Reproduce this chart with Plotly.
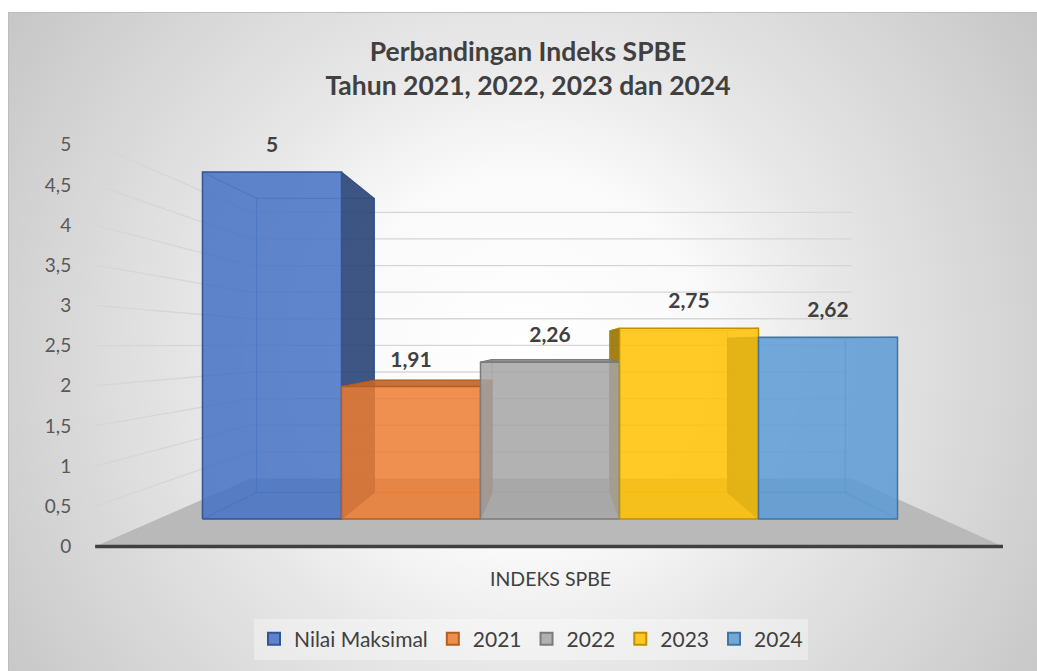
import base64
import plotly.graph_objects as go

# ---------------- data ----------------
SERIES = ["Nilai Maksimal", "2021", "2022", "2023", "2024"]
VALUES = [5, 1.91, 2.26, 2.75, 2.62]
COLORS = ["#4472C4", "#ED7D31", "#A5A5A5", "#FFC000", "#5B9BD5"]
Y_TICKS = [0, 0.5, 1, 1.5, 2, 2.5, 3, 3.5, 4, 4.5, 5]
Y_TICK_TEXT = ["0", "0,5", "1", "1,5", "2", "2,5", "3", "3,5", "4", "4,5", "5"]
CATEGORY = "INDEKS SPBE"
TITLE_LINES = ["Perbandingan Indeks SPBE", "Tahun 2021, 2022, 2023 dan 2024"]

# ---------------- 3D projection geometry (screen pixels) ----------------
W, H = 1037, 671
OFF = 0                    # body margin removed by post_script: figure origin = screen origin
VX, VY = 556, 345          # vanishing point
BASE_Y = 519               # bar front plane: y of value 0
PX_PER_UNIT = 69.4         # bar front plane: pixels per unit
F_FLOOR_FRONT = 1.158
F_BAR_FRONT = 1.0
F_BAR_BACK = 0.847
F_WALL = 0.767
X_LEFT, X_RIGHT = 158, 942
GAP_RATIO = 0.32
OPACITY = 0.85
FONT = "Lato"
TXT = "#404040"


def proj(X, v, f):
    return VX + (X - VX) * f, VY + (BASE_Y - PX_PER_UNIT * v - VY) * f


def col(hexc, a=1.0, k=1.0):
    r, g, b = (int(hexc[i:i + 2], 16) for i in (1, 3, 5))
    return f"rgba({int(r * k)},{int(g * k)},{int(b * k)},{a})"


def poly(pts):
    xs = [p[0] for p in pts] + [pts[0][0]]
    ys = [p[1] for p in pts] + [pts[0][1]]
    return xs, ys


fig = go.Figure()

# floor
fx, fy = poly([proj(X_LEFT, 0, F_FLOOR_FRONT), proj(X_RIGHT, 0, F_FLOOR_FRONT),
               proj(X_RIGHT, 0, F_WALL), proj(X_LEFT, 0, F_WALL)])
fig.add_trace(go.Scatter(x=fx, y=fy, fill="toself", fillcolor="#b9b9b9", mode="lines",
                         line=dict(width=0, color="#b9b9b9"), showlegend=False, hoverinfo="skip"))

# gridlines on side wall and back wall
gx, gy = [], []
for v in Y_TICKS:
    if v == 0:
        continue
    a = proj(X_LEFT, v, F_FLOOR_FRONT)
    b = proj(X_LEFT, v, F_WALL)
    c = proj(X_RIGHT, v, F_WALL)
    gx += [a[0], b[0], c[0], None]
    gy += [a[1], b[1], c[1], None]
fig.add_trace(go.Scatter(x=gx, y=gy, mode="lines", line=dict(color="#d6d6d6", width=1.3),
                         showlegend=False, hoverinfo="skip"))

# axis line (floor front edge)
a0 = proj(X_LEFT, 0, F_FLOOR_FRONT)
a1 = proj(X_RIGHT, 0, F_FLOOR_FRONT)
fig.add_trace(go.Scatter(x=[a0[0], a1[0]], y=[a0[1], a1[1]], mode="lines",
                         line=dict(color="#404040", width=3.5), showlegend=False, hoverinfo="skip"))

n = len(VALUES)
bar_w = (X_RIGHT - X_LEFT) / (n + 2 * GAP_RATIO)
bars = []
for i, (v, c) in enumerate(zip(VALUES, COLORS)):
    xl = X_LEFT + GAP_RATIO * bar_w + i * bar_w
    xr = xl + bar_w
    bars.append((xl, xr, v, c))

# back edges (seen through translucent faces)
for xl, xr, v, c in bars:
    ex, ey = [], []
    back = [proj(xl, 0, F_BAR_BACK), proj(xr, 0, F_BAR_BACK), proj(xr, v, F_BAR_BACK), proj(xl, v, F_BAR_BACK)]
    bx, by = poly(back)
    ex += bx + [None]
    ey += by + [None]
    for X, val in [(xl, 0), (xr, 0), (xr, v), (xl, v)]:
        p, q = proj(X, val, F_BAR_FRONT), proj(X, val, F_BAR_BACK)
        ex += [p[0], q[0], None]
        ey += [p[1], q[1], None]
    fig.add_trace(go.Scatter(x=ex, y=ey, mode="lines", line=dict(color=col(c, 0.55, 0.85), width=1.2),
                             showlegend=False, hoverinfo="skip"))

# side faces
for xl, xr, v, c in bars:
    for X, vis in [(xl, xl > VX), (xr, xr < VX)]:
        if not vis:
            continue
        sx, sy = poly([proj(X, 0, F_BAR_FRONT), proj(X, 0, F_BAR_BACK),
                       proj(X, v, F_BAR_BACK), proj(X, v, F_BAR_FRONT)])
        fig.add_trace(go.Scatter(x=sx, y=sy, fill="toself", fillcolor=col(c, 0.9, 0.6), mode="lines",
                                 line=dict(color=col(c, 1, 0.7), width=1), showlegend=False, hoverinfo="skip"))

# top faces (visible when below the horizon)
for xl, xr, v, c in bars:
    if proj(xl, v, F_BAR_FRONT)[1] <= VY:
        continue
    tx, ty = poly([proj(xl, v, F_BAR_FRONT), proj(xr, v, F_BAR_FRONT),
                   proj(xr, v, F_BAR_BACK), proj(xl, v, F_BAR_BACK)])
    fig.add_trace(go.Scatter(x=tx, y=ty, fill="toself", fillcolor=col(c, 0.92, 0.82), mode="lines",
                             line=dict(color=col(c, 1, 0.75), width=1), showlegend=False, hoverinfo="skip"))

# front faces
for (xl, xr, v, c), name in zip(bars, SERIES):
    qx, qy = poly([proj(xl, 0, F_BAR_FRONT), proj(xr, 0, F_BAR_FRONT),
                   proj(xr, v, F_BAR_FRONT), proj(xl, v, F_BAR_FRONT)])
    fig.add_trace(go.Scatter(x=qx, y=qy, fill="toself", fillcolor=col(c, OPACITY), mode="lines",
                             line=dict(color=col(c, 1, 0.75), width=1.5), name=name,
                             legendgroup=name, showlegend=False, hoverinfo="skip"))

# data labels
lx = [proj((xl + xr) / 2, v, F_BAR_FRONT)[0] for xl, xr, v, c in bars]
ly = [proj((xl + xr) / 2, v, F_BAR_FRONT)[1] - 25 for xl, xr, v, c in bars]
lt = [f"{v:g}".replace(".", ",") for v in VALUES]
fig.add_trace(go.Scatter(x=lx, y=ly, mode="text", text=lt, textposition="middle center",
                         textfont=dict(family=FONT, size=21, color=TXT, weight="bold"),
                         showlegend=False, hoverinfo="skip"))

# legend entries
for name, c in zip(SERIES, COLORS):
    fig.add_trace(go.Scatter(x=[None], y=[None], mode="markers", name=name, legendgroup=name,
                             marker=dict(symbol="square", size=14, color=col(c, OPACITY),
                                         line=dict(color=col(c, 1, 0.75), width=1.5))))

# gradient background + chart-area border as svg (chart area: screen x 8.., y 12..)
BG_X, BG_Y = 8, 12
BG_W, BG_H = W - BG_X + 20, H - BG_Y + 20
svg = (f'<svg xmlns="http://www.w3.org/2000/svg" width="{BG_W}" height="{BG_H}">'
       '<defs><radialGradient id="g" gradientUnits="userSpaceOnUse" cx="515" cy="345" r="620">'
       '<stop offset="0" stop-color="#ffffff"/><stop offset="0.3" stop-color="#fafafa"/>'
       '<stop offset="0.5" stop-color="#e8e8e8"/><stop offset="0.8" stop-color="#d4d4d4"/>'
       '<stop offset="1" stop-color="#c6c6c6"/></radialGradient></defs>'
       f'<rect width="{BG_W}" height="{BG_H}" fill="url(#g)"/>'
       f'<path d="M0.5,{BG_H} V0.5 H{BG_W}" fill="none" stroke="#bdbdbd" stroke-width="1"/></svg>')
src = "data:image/svg+xml;base64," + base64.b64encode(svg.encode()).decode()

ML = 81                    # left margin (tick labels live there)
PW = W - ML


def cx(sx):  # screen x -> container fraction
    return (sx - OFF) / W


def cy(sy):  # screen y -> container fraction
    return 1 - (sy - OFF) / H


fig.update_layout(
    width=W, height=H,
    margin=dict(l=ML, r=0, t=0, b=0, autoexpand=False),
    paper_bgcolor="#c6c6c6", plot_bgcolor="rgba(0,0,0,0)",
    images=[dict(source=src, xref="paper", yref="paper", x=(BG_X - ML) / PW, y=1 - BG_Y / H,
                 sizex=BG_W / PW, sizey=BG_H / H, xanchor="left", yanchor="top",
                 sizing="stretch", layer="below")],
    shapes=[
        dict(type="rect", xref="paper", yref="paper", x0=(0 - ML) / PW, x1=(W + 20 - ML) / PW,
             y0=1 - BG_Y / H, y1=1.01, line=dict(width=0), fillcolor="white", layer="below"),
        dict(type="rect", xref="paper", yref="paper", x0=(-10 - ML) / PW, x1=(BG_X - ML) / PW,
             y0=-0.02, y1=1.01, line=dict(width=0), fillcolor="white", layer="below"),
    ],
    xaxis=dict(range=[ML + OFF, W + OFF], visible=False, fixedrange=True),
    yaxis=dict(range=[H + OFF, OFF], showgrid=False, zeroline=False, showline=False,
               tickvals=[proj(X_LEFT, t, F_FLOOR_FRONT)[1] for t in Y_TICKS], ticktext=Y_TICK_TEXT,
               ticks="outside", ticklen=5, tickcolor="rgba(0,0,0,0)",
               tickfont=dict(family=FONT, size=19, color="#595959"), fixedrange=True),
    title=dict(text="<br>".join(TITLE_LINES), xref="container", yref="container",
               x=cx(528), xanchor="center", y=cy(61), yanchor="middle",
               font=dict(family=FONT, size=26.5, color=TXT, weight="bold")),
    legend=dict(orientation="h", xref="container", yref="container", x=cx(531), xanchor="center",
                y=cy(639), yanchor="middle", bgcolor="rgba(255,255,255,0.35)",
                font=dict(family=FONT, size=21, color=TXT), itemsizing="constant",
                traceorder="normal", itemwidth=30),
    annotations=[dict(text=CATEGORY, xref="x", yref="y", x=550, y=578, showarrow=False,
                      font=dict(family=FONT, size=19.5, color=TXT))],
    showlegend=True,
)

fig.write_html("out.html", config={"displayModeBar": False}, post_script=(
    "document.documentElement.style.margin='0';document.body.style.margin='0';"
    "document.documentElement.style.overflow='hidden';document.body.style.overflow='hidden';"))
